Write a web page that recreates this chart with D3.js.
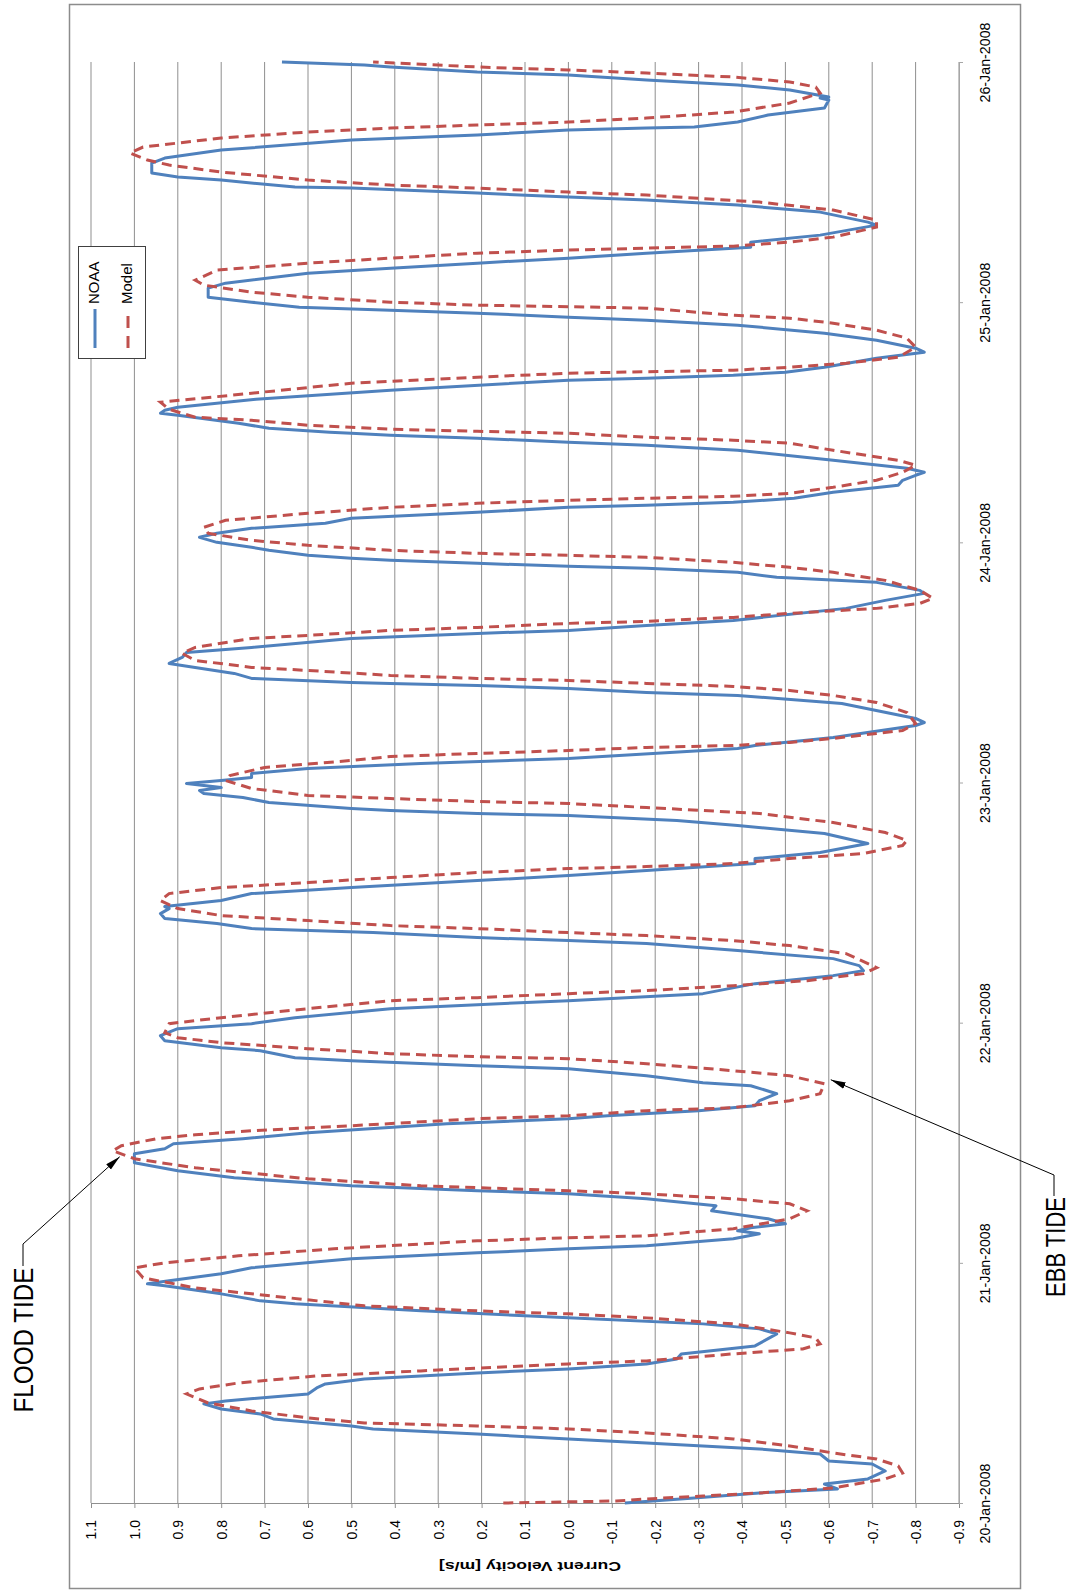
<!DOCTYPE html>
<html><head><meta charset="utf-8">
<script src="https://cdn.jsdelivr.net/npm/d3@7"></script>
<style>body{margin:0;background:#fff}svg{display:block}</style>
</head><body>
<svg id="c" width="1070" height="1591"></svg>
<script>
// ---- data (hours since 20-Jan-2008 00:00, current velocity m/s) ----
const dateTickLabels = ["20-Jan-2008","21-Jan-2008","22-Jan-2008","23-Jan-2008","24-Jan-2008","25-Jan-2008","26-Jan-2008"];
const valueTicks = [1.1,1.0,0.9,0.8,0.7,0.6,0.5,0.4,0.3,0.2,0.1,0.0,-0.1,-0.2,-0.3,-0.4,-0.5,-0.6,-0.7,-0.8,-0.9];
const valueTickLabels = ["1.1","1.0","0.9","0.8","0.7","0.6","0.5","0.4","0.3","0.2","0.1","0.0","-0.1","-0.2","-0.3","-0.4","-0.5","-0.6","-0.7","-0.8","-0.9"];
const seriesNames = ["NOAA","Model"];
const axisTitle = "Current Velocity [m/s]";

const noaa = [[0,-0.13],[0.5,-0.29],[1,-0.44],[1.4,-0.62],[1.9,-0.59],[2.4,-0.69],[3.2,-0.73],[3.9,-0.70],[4.2,-0.60],[4.9,-0.58],[5.4,-0.44],[5.7,-0.31],[6,-0.18],[6.4,0.0],[6.9,0.21],[7.4,0.45],[7.7,0.50],[8.4,0.68],[8.9,0.71],[9.4,0.80],[9.9,0.84],[10.2,0.79],[10.9,0.60],[11.5,0.58],[11.9,0.56],[12.4,0.47],[13,0.21],[13.4,0.0],[13.9,-0.18],[14.4,-0.25],[14.9,-0.26],[15.7,-0.43],[16.9,-0.48],[17.4,-0.44],[17.9,-0.31],[18.5,0.0],[19.2,0.34],[19.9,0.63],[20.2,0.71],[20.9,0.80],[21.7,0.93],[21.9,0.97],[22.2,0.92],[22.9,0.80],[23.5,0.73],[24.4,0.50],[25,0.21],[25.4,0.0],[25.7,-0.18],[26.4,-0.38],[26.9,-0.44],[27.2,-0.39],[27.5,-0.42],[27.9,-0.50],[28.4,-0.46],[29.2,-0.33],[29.7,-0.34],[30.4,-0.18],[30.9,0.0],[31.2,0.21],[31.7,0.50],[32.5,0.77],[33.2,0.90],[34,1.0],[34.9,1.0],[35.4,0.93],[35.9,0.91],[36.4,0.75],[37,0.60],[37.9,0.28],[38.4,0.0],[38.7,-0.09],[39.2,-0.30],[39.7,-0.43],[40.2,-0.44],[40.9,-0.48],[41.7,-0.42],[42,-0.31],[42.7,-0.18],[43.4,0.0],[43.7,0.21],[44.2,0.50],[44.5,0.63],[45.2,0.71],[45.5,0.80],[46.2,0.93],[46.7,0.94],[47.4,0.90],[47.9,0.73],[48.5,0.63],[49.4,0.41],[50.2,0.0],[50.9,-0.31],[51.9,-0.43],[52.7,-0.61],[53.2,-0.68],[53.7,-0.67],[54.4,-0.61],[55.2,-0.39],[55.9,-0.18],[56.2,0.0],[56.5,0.21],[57,0.45],[57.4,0.73],[57.9,0.81],[58.4,0.93],[58.9,0.94],[59.4,0.92],[59.6,0.93],[60.2,0.80],[60.9,0.73],[61.5,0.50],[62.2,0.21],[62.7,0.0],[63.2,-0.18],[63.9,-0.43],[64.4,-0.43],[65,-0.58],[65.9,-0.69],[66.9,-0.59],[67.7,-0.39],[68.2,-0.25],[68.7,0.0],[68.9,0.21],[69.2,0.41],[69.4,0.50],[70,0.69],[70.5,0.75],[70.9,0.84],[71.2,0.85],[71.5,0.80],[71.9,0.88],[72.2,0.80],[72.5,0.73],[72.9,0.73],[73.4,0.60],[73.9,0.34],[74.4,0.0],[75.4,-0.39],[75.7,-0.43],[76.5,-0.61],[77.7,-0.80],[78,-0.82],[78.4,-0.80],[79.9,-0.63],[80.7,-0.39],[81,-0.18],[81.4,0.0],[81.7,0.21],[81.9,0.41],[82,0.50],[82.4,0.73],[82.9,0.77],[83.5,0.86],[83.9,0.92],[84.5,0.89],[85,0.88],[85.5,0.73],[86.4,0.50],[86.9,0.21],[87.2,0.0],[87.7,-0.18],[88.2,-0.38],[89.4,-0.64],[90.2,-0.73],[90.9,-0.82],[91.2,-0.81],[92,-0.71],[92.5,-0.48],[93,-0.39],[93.4,-0.18],[93.6,0.0],[93.9,0.21],[94.2,0.41],[94.4,0.50],[94.7,0.60],[95.2,0.69],[95.5,0.73],[96,0.81],[96.5,0.85],[96.9,0.81],[97.4,0.73],[97.9,0.56],[98.4,0.50],[99,0.21],[99.5,0.0],[99.7,-0.18],[100,-0.38],[100.4,-0.52],[101,-0.61],[101.7,-0.76],[102.2,-0.77],[102.7,-0.80],[103,-0.82],[103.4,-0.78],[104.2,-0.61],[105.2,-0.39],[105.7,-0.18],[106,0.0],[106.4,0.21],[106.7,0.41],[106.9,0.50],[107,0.55],[107.4,0.69],[107.9,0.76],[108.7,0.90],[108.9,0.94],[109.2,0.93],[109.5,0.90],[110.3,0.72],[111.2,0.41],[112.2,0.0],[112.4,-0.18],[112.7,-0.38],[113,-0.50],[113.5,-0.59],[114.4,-0.71],[115,-0.82],[115.4,-0.80],[116.2,-0.71],[116.9,-0.59],[117.7,-0.39],[118.2,-0.18],[118.5,0.0],[118.9,0.21],[119.2,0.41],[119.5,0.62],[120,0.73],[120.5,0.83],[121.4,0.83],[121.9,0.79],[122.9,0.60],[123.4,0.41],[123.9,0.21],[124.4,0.0],[124.9,-0.18],[125.5,-0.42],[126,-0.42],[126.7,-0.58],[127.7,-0.71],[128,-0.69],[129,-0.58],[129.7,-0.39],[130.2,-0.18],[130.5,0.0],[130.9,0.21],[131.4,0.50],[131.5,0.63],[132.2,0.80],[132.5,0.90],[132.9,0.96],[133.9,0.96],[134.4,0.93],[135.2,0.80],[136.2,0.50],[136.7,0.21],[137.2,0.0],[137.4,-0.18],[137.5,-0.29],[138,-0.39],[138.7,-0.46],[139.4,-0.59],[140.2,-0.60],[140.4,-0.58],[140.5,-0.60],[141.2,-0.51],[141.7,-0.39],[142.2,-0.18],[142.7,0.0],[143,0.21],[143.5,0.41],[143.7,0.47],[144,0.66]];

const model = [[0,0.15],[0.2,-0.11],[0.4,-0.18],[0.7,-0.31],[1,-0.44],[1.5,-0.61],[2.4,-0.73],[3,-0.77],[3.7,-0.76],[4.4,-0.71],[5,-0.61],[5.7,-0.51],[6.4,-0.38],[7,-0.18],[7.4,0.0],[7.7,0.21],[8,0.47],[8.5,0.60],[9.2,0.73],[10,0.83],[10.9,0.88],[11.4,0.85],[12,0.76],[12.7,0.58],[13.2,0.34],[13.9,0.0],[14.2,-0.18],[14.9,-0.38],[15.4,-0.54],[15.9,-0.58],[16.5,-0.57],[17,-0.51],[17.9,-0.38],[18.5,-0.18],[18.9,0.0],[19.2,0.21],[19.7,0.47],[20.9,0.73],[21.5,0.86],[22.5,0.98],[23.5,1.0],[24,0.93],[24.7,0.76],[25.4,0.54],[26.2,0.21],[26.5,0.0],[26.7,-0.18],[27.4,-0.38],[28.4,-0.51],[29.2,-0.55],[29.9,-0.51],[30.4,-0.38],[30.9,-0.18],[31.2,0.0],[31.7,0.34],[32.4,0.60],[33.5,0.86],[34.4,1.0],[35.2,1.05],[35.7,1.03],[36.4,0.95],[36.8,0.86],[37.2,0.73],[37.7,0.50],[38.4,0.21],[38.7,0.0],[39.2,-0.18],[39.5,-0.38],[40.2,-0.51],[40.9,-0.58],[41.9,-0.59],[42.7,-0.51],[43.2,-0.38],[43.9,-0.18],[44.4,0.0],[44.6,0.21],[44.9,0.41],[45.4,0.60],[46,0.80],[46.5,0.90],[47,0.93],[47.9,0.92],[48.5,0.80],[49.4,0.60],[50.2,0.41],[50.5,0.21],[50.9,0.0],[51.2,-0.18],[51.7,-0.38],[52.2,-0.55],[52.9,-0.68],[53.5,-0.71],[54.9,-0.64],[55.7,-0.51],[56.2,-0.38],[56.7,-0.18],[57,0.0],[57.4,0.21],[57.7,0.41],[58.2,0.60],[58.7,0.80],[59.4,0.90],[60.2,0.94],[60.9,0.92],[61.5,0.80],[62,0.60],[62.5,0.41],[63,0.21],[63.4,0.0],[63.6,-0.18],[63.9,-0.38],[64.4,-0.51],[64.9,-0.68],[65.7,-0.77],[66.2,-0.78],[67,-0.73],[68,-0.61],[68.9,-0.44],[69.5,-0.18],[69.9,0.0],[70.1,0.21],[70.4,0.41],[70.7,0.60],[71.4,0.73],[72.2,0.79],[72.7,0.78],[73.5,0.70],[74.2,0.50],[74.6,0.41],[74.9,0.21],[75.2,0.0],[75.5,-0.18],[75.7,-0.38],[76,-0.51],[76.4,-0.61],[76.9,-0.71],[77.2,-0.77],[77.9,-0.80],[79,-0.78],[80,-0.71],[80.7,-0.61],[81.2,-0.51],[81.6,-0.38],[81.9,-0.18],[82.2,0.0],[82.4,0.21],[82.7,0.41],[83.2,0.60],[83.5,0.73],[84.2,0.86],[84.9,0.89],[85.5,0.86],[86.4,0.73],[86.7,0.60],[87.2,0.41],[87.5,0.21],[87.9,0.0],[88.1,-0.18],[88.5,-0.38],[88.9,-0.51],[89.4,-0.71],[89.9,-0.81],[90.4,-0.84],[91.2,-0.81],[92.2,-0.73],[93,-0.61],[93.5,-0.51],[94,-0.38],[94.5,-0.18],[94.7,0.0],[94.9,0.21],[95.2,0.41],[95.7,0.60],[96.2,0.73],[96.9,0.83],[97.5,0.84],[98.2,0.79],[98.9,0.60],[99.5,0.41],[99.9,0.21],[100.2,0.0],[100.4,-0.18],[100.6,-0.38],[100.9,-0.51],[101.5,-0.61],[102.2,-0.71],[103,-0.77],[103.7,-0.80],[104.2,-0.76],[105.2,-0.61],[105.9,-0.51],[106.2,-0.38],[106.5,-0.18],[106.9,0.0],[107.1,0.21],[107.3,0.41],[107.7,0.60],[108.2,0.73],[108.5,0.86],[109.3,0.92],[110,0.94],[110.9,0.73],[111.9,0.50],[112.5,0.21],[112.9,0.0],[113.05,-0.18],[113.2,-0.38],[113.5,-0.51],[113.9,-0.64],[114.5,-0.76],[115.5,-0.80],[116.4,-0.78],[117.2,-0.71],[117.9,-0.61],[118.4,-0.51],[118.7,-0.38],[119.4,-0.18],[119.55,0.0],[119.7,0.21],[120,0.41],[120.5,0.60],[121,0.73],[121.7,0.84],[122.2,0.86],[123.2,0.81],[123.9,0.60],[124.4,0.41],[124.9,0.21],[125.2,0.0],[125.4,-0.18],[125.6,-0.38],[126,-0.51],[126.5,-0.61],[127.5,-0.71],[128.2,-0.71],[129.2,-0.61],[130,-0.44],[130.7,-0.18],[131,0.0],[131.4,0.21],[131.7,0.41],[132.2,0.60],[133,0.80],[133.7,0.92],[134.2,0.97],[134.9,1.01],[135.5,0.98],[136.4,0.80],[137,0.60],[137.4,0.41],[137.7,0.21],[138,0.0],[138.4,-0.18],[139,-0.38],[139.9,-0.51],[140.9,-0.58],[141.5,-0.57],[142,-0.51],[142.5,-0.38],[142.9,-0.18],[143.2,0.0],[143.5,0.21],[144,0.45]];

// annotation targets [hour, velocity]
const floodTarget = [35.2, 1.05];
const ebbTarget = [42.3, -0.60];

// ---- drawing ----
const svg = d3.select("#c");
const t0 = new Date(2008,0,20);
const dayTicks = d3.range(7).map(i => d3.timeDay.offset(t0, i));
const x = d3.scaleLinear().domain([1.1,-0.9]).range([91,959]);
const y = d3.scaleTime().domain([t0, new Date(2008,0,26)]).range([1503,62]);
const tAt = h => d3.timeMinute.offset(t0, Math.round(h*60));

// outer frame
svg.append("rect").attr("x",69.5).attr("y",4.5).attr("width",951).attr("height",1584)
  .attr("fill","#fff").attr("stroke","#8c8c8c").attr("stroke-width",1.5);

// gridlines
svg.append("g").selectAll("line").data(valueTicks).join("line")
  .attr("x1",d=>x(d)).attr("x2",d=>x(d)).attr("y1",y.range()[1]).attr("y2",y.range()[0])
  .attr("stroke","#8f8f8f").attr("stroke-width",1);

// value axis (bottom)
const gx = svg.append("g").attr("transform",`translate(0,${y.range()[0]})`)
  .call(d3.axisBottom(x).tickValues(valueTicks).tickSize(5).tickSizeOuter(0)
    .tickFormat((d,i)=>valueTickLabels[i]));
gx.select(".domain").attr("stroke","#8f8f8f");
gx.selectAll(".tick line").attr("stroke","#8f8f8f");
gx.selectAll(".tick text").attr("x",0).attr("y",0).attr("dy","0.35em")
  .attr("transform","translate(0,17) rotate(-90)").style("text-anchor","end")
  .attr("font-family","Liberation Sans, Arial, sans-serif").attr("font-size",14).attr("fill","#000");

// date axis (right side)
const gy = svg.append("g").attr("transform",`translate(${x.range()[1]},0)`)
  .call(d3.axisRight(y).tickValues(dayTicks).tickSize(4).tickSizeOuter(0)
    .tickFormat((d,i)=>dateTickLabels[i]));
gy.select(".domain").attr("stroke","#a6a6a6");
gy.selectAll(".tick line").attr("stroke","#a6a6a6");
gy.selectAll(".tick text").attr("x",0).attr("y",0).attr("dy","0.35em")
  .attr("transform","translate(26,0) rotate(-90)").style("text-anchor","middle")
  .attr("font-family","Liberation Sans, Arial, sans-serif").attr("font-size",14).attr("fill","#000")
  .attr("textLength",80).attr("lengthAdjust","spacingAndGlyphs");

// axis title (upside down)
svg.append("text").attr("transform","translate(530,1567) rotate(180)")
  .attr("text-anchor","middle").attr("dy","0.35em")
  .attr("font-family","Liberation Sans, Arial, sans-serif").attr("font-weight","bold").attr("font-size",13)
  .attr("textLength",182).attr("lengthAdjust","spacingAndGlyphs").text(axisTitle);

// series
const line = d3.line().x(d=>x(d[1])).y(d=>y(tAt(d[0])));
svg.append("path").datum(noaa).attr("d",line).attr("fill","none")
  .attr("stroke","#4F81BD").attr("stroke-width",3).attr("stroke-linejoin","round");
svg.append("path").datum(model).attr("d",line).attr("fill","none")
  .attr("stroke","#C0504D").attr("stroke-width",3).attr("stroke-dasharray","10,6");

// legend
const lg = svg.append("g");
lg.append("rect").attr("x",78.5).attr("y",246.5).attr("width",67).attr("height",112)
  .attr("fill","#fff").attr("stroke","#404040").attr("stroke-width",1);
const legendCols = [{name:seriesNames[0],cx:95,color:"#4F81BD",dash:null},
                    {name:seriesNames[1],cx:128,color:"#C0504D",dash:"12,8"}];
legendCols.forEach(c=>{
  lg.append("line").attr("x1",c.cx).attr("x2",c.cx).attr("y1",348).attr("y2",309)
    .attr("stroke",c.color).attr("stroke-width",3).attr("stroke-dasharray",c.dash);
  lg.append("text").attr("transform",`translate(${c.cx-1},304) rotate(-90)`).attr("dy","0.35em")
    .attr("font-family","Liberation Sans, Arial, sans-serif").attr("font-size",15).attr("fill","#000")
    .text(c.name);
});

// annotations
const defs = svg.append("defs");
defs.append("marker").attr("id","arr").attr("markerUnits","userSpaceOnUse")
  .attr("markerWidth",16).attr("markerHeight",8).attr("refX",15).attr("refY",3.5).attr("orient","auto")
  .append("path").attr("d","M0,0 L15,3.5 L0,7 Z").attr("fill","#000");

const fx = x(floodTarget[1]) + 7, fy = y(tAt(floodTarget[0])) + 6;
svg.append("polyline").attr("points",`23,1266 23,1244 ${fx},${fy}`)
  .attr("fill","none").attr("stroke","#000").attr("stroke-width",1).attr("marker-end","url(#arr)");
svg.append("text").attr("transform","translate(23,1340) rotate(-90)").attr("text-anchor","middle").attr("dy","0.36em")
  .attr("font-family","Liberation Sans Narrow, Liberation Sans, Arial, sans-serif").attr("font-size",27)
  .attr("textLength",145).attr("lengthAdjust","spacingAndGlyphs").attr("fill","#000").text("FLOOD  TIDE");

const ex = x(ebbTarget[1]) + 2, ey = y(tAt(ebbTarget[0]));
svg.append("polyline").attr("points",`1054,1196 1054,1175 ${ex},${ey}`)
  .attr("fill","none").attr("stroke","#000").attr("stroke-width",1).attr("marker-end","url(#arr)");
svg.append("text").attr("transform","translate(1055,1247) rotate(-90)").attr("text-anchor","middle").attr("dy","0.36em")
  .attr("font-family","Liberation Sans Narrow, Liberation Sans, Arial, sans-serif").attr("font-size",27)
  .attr("textLength",100).attr("lengthAdjust","spacingAndGlyphs").attr("fill","#000").text("EBB  TIDE");
</script>
</body></html>
